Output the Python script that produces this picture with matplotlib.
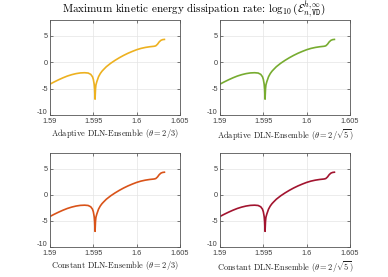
import matplotlib
matplotlib.use("Agg")
import matplotlib.pyplot as plt
from matplotlib.transforms import ScaledTranslation

plt.rcParams['mathtext.fontset'] = 'cm'

# time points (shared by all panels) and log10 of max dissipation rate
t_vals = [1.5900, 1.5905, 1.5910, 1.5915, 1.5920, 1.5925, 1.5930, 1.5935, 1.5940,
          1.5944, 1.5947, 1.5949, 1.5950, 1.5951, 1.59515, 1.5952, 1.59525, 1.5953,
          1.5954, 1.5956, 1.5958, 1.5960, 1.5962, 1.5965, 1.5970, 1.5975, 1.5980,
          1.5985, 1.5990, 1.5995, 1.6000, 1.6005, 1.6010, 1.6015, 1.6020, 1.6022,
          1.6024, 1.6026, 1.6028, 1.6030, 1.6032]
adaptive_23 = [-4.15, -3.72, -3.32, -2.95, -2.62, -2.36, -2.16, -2.03, -1.99,
               -2.05, -2.30, -2.75, -3.25, -4.20, -5.20, -7.00, -5.10, -4.30,
               -3.70, -2.75, -2.15, -1.70, -1.35, -0.85, -0.20, 0.35, 0.85,
               1.30, 1.70, 2.05, 2.37, 2.62, 2.80, 2.93, 3.02, 3.10,
               3.40, 3.85, 4.15, 4.28, 4.32]
adaptive_2s5 = list(adaptive_23)
constant_23 = list(adaptive_23)
constant_2s5 = list(adaptive_23)

series = [adaptive_23, adaptive_2s5, constant_23, constant_2s5]
colors = ['#EDB120', '#77AC30', '#D95319', '#A2142F']
xlabels = [r'Adaptive DLN-Ensemble ($\theta = 2/3$)',
           r'Adaptive DLN-Ensemble ($\theta = 2/\sqrt{5}$)',
           r'Constant DLN-Ensemble ($\theta = 2/3$)',
           r'Constant DLN-Ensemble ($\theta = 2/\sqrt{5}$)']
xticks = [1.59, 1.595, 1.6, 1.605]
xticklabels = ['1.59', '1.595', '1.6', '1.605']
yticks = [-10, -5, 0, 5]
yticklabels = ['-10', '-5', '0', '5']
title = r'Maximum kinetic energy dissipation rate: $\log_{10}(\mathcal{E}^{h,\infty}_{n,\mathtt{VD}})$'

W, H = 388, 277
fig = plt.figure(figsize=(W/100, H/100), dpi=100)
boxes = [(50, 20, 130, 95), (220, 20, 130, 95), (50, 153, 130, 94), (220, 153, 130, 94)]
for i, (l, t, w, h) in enumerate(boxes):
    ax = fig.add_axes([l/W, 1-(t+h)/H, w/W, h/H])
    ax.plot(t_vals, series[i], color=colors[i], lw=1.2)
    ax.set_xlim(1.59, 1.605)
    ax.set_ylim(-10, 8)
    ax.set_xticks(xticks)
    ax.set_xticklabels(xticklabels, fontfamily='Liberation Sans', fontsize=5.3, color='#404040')
    ax.set_yticks(yticks)
    ax.set_yticklabels(yticklabels, fontfamily='Liberation Sans', fontsize=5.3, color='#404040')
    ax.tick_params(axis='x', pad=2.2)
    ax.tick_params(axis='y', pad=1.5)
    ax.tick_params(direction='in', length=2, width=0.5, top=True, right=True,
                   color='#444444')
    ax.grid(True, color='#e4e4e4', lw=0.5)
    ax.set_axisbelow(True)
    for s in ax.spines.values():
        s.set_color('#555555')
        s.set_linewidth(0.6)
    # lift the lowest y tick label slightly, as in the reference
    lbl = ax.get_yticklabels()[0]
    lbl.set_transform(lbl.get_transform() + ScaledTranslation(0, 3/100, fig.dpi_scale_trans))
    ax.set_xlabel(xlabels[i], fontfamily='cmr10', fontsize=6.0, labelpad=1.5, color='#222222')

fig.text(0.5, 1-10/H, title, ha='center', va='center', fontfamily='cmr10', fontsize=8.0)
fig.savefig('out.png', dpi=100)
